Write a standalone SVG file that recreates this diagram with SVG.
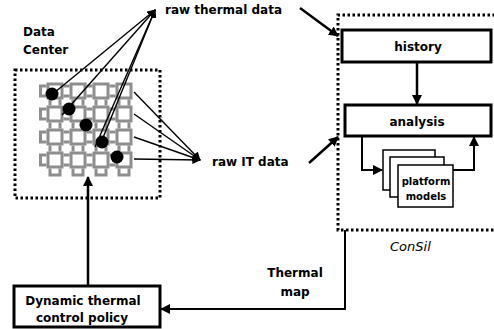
<svg xmlns="http://www.w3.org/2000/svg" xmlns:xlink="http://www.w3.org/1999/xlink" width="494" height="329" viewBox="0 0 494 329">
<style>
.t{font-family:"DejaVu Sans","Liberation Sans",sans-serif;font-weight:700;font-size:12px;fill:#000}
.sm{font-size:10px}
.it{font-family:"DejaVu Sans","Liberation Sans",sans-serif;font-style:italic;font-size:13px;fill:#000}
.dot{fill:none;stroke:#000;stroke-width:3;stroke-dasharray:2.5 2.5}
.box{fill:#fff;stroke:#000;stroke-width:3}
.cell{fill:#fff;stroke:#8e8e8e;stroke-width:3}
.lad{fill:none;stroke:#8e8e8e;stroke-width:3}
.thin{fill:none;stroke:#000;stroke-width:1.4}
.thick{fill:none;stroke:#000;stroke-width:2.5}
.med{fill:none;stroke:#000;stroke-width:2}
</style>
<defs>
<marker id="ah" viewBox="0 0 10 10" refX="9" refY="5" markerWidth="4" markerHeight="4" orient="auto" markerUnits="strokeWidth"><path d="M0,0 L10,5 L0,10 z" fill="#000"/></marker>
<marker id="aht" viewBox="0 0 10 10" refX="9" refY="5" markerWidth="6" markerHeight="6" orient="auto" markerUnits="strokeWidth"><path d="M0,0 L10,5 L0,10 z" fill="#000"/></marker>
<marker id="ahs" viewBox="0 0 10 10" refX="9" refY="5" markerWidth="5" markerHeight="5" orient="auto" markerUnits="strokeWidth"><path d="M0,0 L10,5 L0,10 z" fill="#000"/></marker>
<path id="hl" d="M-3,-5 H3 M-3,5 H3"/>
<path id="el" d="M-3,-5 H3 M-3,-6.5 V6.5 M-3,5 H3"/>
<path id="vl" d="M-5,-3 V3 M5,-3 V3"/>
<path id="bl" d="M-5,-3 V4 M5,-3 V4 M-6.5,3.5 H6.5"/>
</defs>

<g id="data-center">
<rect class="dot" x="15" y="70" width="145" height="128"/>
<text class="t" x="23" y="36">Data</text>
<text class="t" x="23" y="54">Center</text>
<g id="grid">
<g class="lad">
<use href="#el" x="43.5" y="91"/><use href="#hl" x="66.5" y="91"/><use href="#hl" x="89.5" y="91"/><use href="#hl" x="112.5" y="91"/>
<use href="#el" x="43.5" y="114"/><use href="#hl" x="66.5" y="114"/><use href="#hl" x="89.5" y="114"/><use href="#hl" x="112.5" y="114"/>
<use href="#el" x="43.5" y="137"/><use href="#hl" x="66.5" y="137"/><use href="#hl" x="89.5" y="137"/><use href="#hl" x="112.5" y="137"/>
<use href="#el" x="43.5" y="160"/><use href="#hl" x="66.5" y="160"/><use href="#hl" x="89.5" y="160"/><use href="#hl" x="112.5" y="160"/>
<use href="#vl" x="55" y="102.5"/><use href="#vl" x="78" y="102.5"/><use href="#vl" x="101" y="102.5"/><use href="#vl" x="124" y="102.5"/>
<use href="#vl" x="55" y="125.5"/><use href="#vl" x="78" y="125.5"/><use href="#vl" x="101" y="125.5"/><use href="#vl" x="124" y="125.5"/>
<use href="#vl" x="55" y="148.5"/><use href="#vl" x="78" y="148.5"/><use href="#vl" x="101" y="148.5"/><use href="#vl" x="124" y="148.5"/>
<use href="#bl" x="55" y="171.5"/><use href="#bl" x="78" y="171.5"/><use href="#bl" x="101" y="171.5"/><use href="#bl" x="124" y="171.5"/>
</g>
<rect class="cell" x="48" y="84" width="14" height="14"/><rect class="cell" x="71" y="84" width="14" height="14"/><rect class="cell" x="94" y="84" width="14" height="14"/><rect class="cell" x="117" y="84" width="14" height="14"/>
<rect class="cell" x="48" y="107" width="14" height="14"/><rect class="cell" x="71" y="107" width="14" height="14"/><rect class="cell" x="94" y="107" width="14" height="14"/><rect class="cell" x="117" y="107" width="14" height="14"/>
<rect class="cell" x="48" y="130" width="14" height="14"/><rect class="cell" x="71" y="130" width="14" height="14"/><rect class="cell" x="94" y="130" width="14" height="14"/><rect class="cell" x="117" y="130" width="14" height="14"/>
<rect class="cell" x="48" y="153" width="14" height="14"/><rect class="cell" x="71" y="153" width="14" height="14"/><rect class="cell" x="94" y="153" width="14" height="14"/><rect class="cell" x="117" y="153" width="14" height="14"/>
</g>
</g>

<g id="connectors">
<path class="thin" marker-end="url(#aht)" d="M49,97 L155,10"/>
<path class="thin" marker-end="url(#aht)" d="M62,115 L155,10"/>
<path class="thin" marker-end="url(#aht)" d="M95,147 L155,10"/>
<path class="thin" marker-end="url(#aht)" d="M100,145 L155,10"/>
<path class="thin" marker-end="url(#aht)" d="M134,92 L200,160"/>
<path class="thin" marker-end="url(#aht)" d="M134,114 L200,160"/>
<path class="thin" marker-end="url(#aht)" d="M134,137 L200,160"/>
<path class="thin" marker-end="url(#aht)" d="M134,159 L200,160"/>
<path class="thick" marker-end="url(#ah)" d="M300,8 L338,36"/>
<path class="thick" marker-end="url(#ah)" d="M309,163 L338,137"/>
<path class="thick" marker-end="url(#ah)" d="M417,62 V104"/>
<path class="med" marker-end="url(#ahs)" d="M362,136 V170 H382"/>
<path class="med" marker-end="url(#ahs)" d="M453,170 H474 V137"/>
<path class="med" marker-end="url(#ahs)" d="M345,230 V309 H161"/>
<path class="thick" marker-end="url(#ah)" d="M88,286 V177"/>
</g>

<g id="dots">
<circle cx="52" cy="94" r="6.5"/>
<circle cx="69" cy="109" r="6.5"/>
<circle cx="86" cy="125" r="6.5"/>
<circle cx="102" cy="142" r="6.5"/>
<circle cx="117" cy="157" r="6.5"/>
</g>

<g id="raw-thermal"><text class="t" x="165" y="14">raw thermal data</text></g>
<g id="raw-it"><text class="t" x="212" y="166">raw IT data</text></g>

<g id="consil">
<path class="dot" d="M500,15 H338 V230 H500"/>
<text class="it" x="390" y="251">ConSil</text>
</g>
<g id="history">
<rect class="box" x="342" y="30" width="149" height="32"/>
<text class="t" x="418" y="51" text-anchor="middle">history</text>
</g>
<g id="analysis">
<rect class="box" x="345" y="105" width="146" height="31"/>
<text class="t" x="417" y="126" text-anchor="middle">analysis</text>
</g>
<g id="platform-models">
<rect x="383" y="150" width="52" height="40" fill="#fff" stroke="#000" stroke-width="1.5"/>
<rect x="390" y="157" width="54" height="40" fill="#fff" stroke="#000" stroke-width="1.5"/>
<rect x="398" y="165" width="55" height="42" fill="#fff" stroke="#000" stroke-width="1.5"/>
<text class="t sm" x="426" y="185" text-anchor="middle">platform</text>
<text class="t sm" x="426" y="200" text-anchor="middle">models</text>
</g>
<g id="thermal-map">
<text class="t" x="295" y="277" text-anchor="middle">Thermal</text>
<text class="t" x="295" y="296" text-anchor="middle">map</text>
</g>
<g id="policy">
<rect class="box" x="14" y="286" width="146" height="41"/>
<text class="t" x="83" y="305" text-anchor="middle">Dynamic thermal</text>
<text class="t" x="82" y="322" text-anchor="middle">control policy</text>
</g>
</svg>
